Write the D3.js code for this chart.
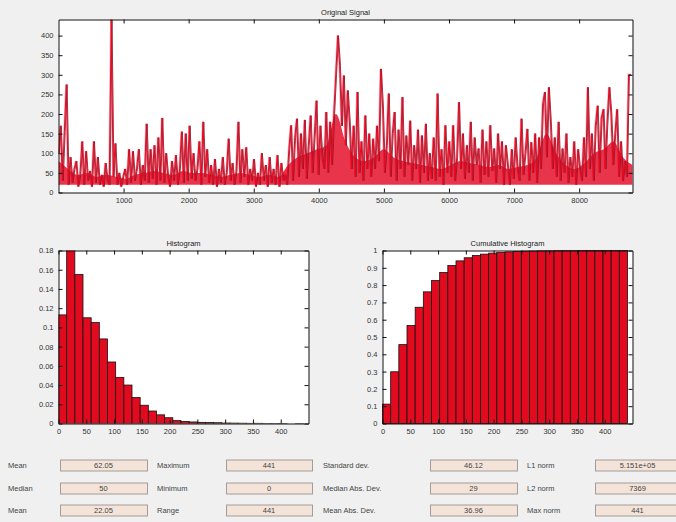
<!DOCTYPE html>
<html lang="en">
<head>
<meta charset="utf-8">
<title>Signal statistics</title>
<script src="https://cdn.jsdelivr.net/npm/d3@7"></script>
<style>
  body { margin: 0; background: #f0f0f0; }
  svg { display: block; font-family: "Liberation Sans", Arial, sans-serif; }
</style>
</head>
<body>
<script>
// signal, one value every sampleStep samples
var signal = [
  100,170,30,155,275,20,90,25,60,80,
  15,45,130,20,105,30,55,15,130,25,
  90,20,45,15,75,30,20,441,40,125,
  20,50,15,40,60,20,110,25,105,30,
  60,110,20,70,30,175,25,110,35,120,
  20,140,30,190,25,100,40,15,80,30,
  95,20,60,155,25,150,30,170,35,100,
  30,60,130,20,180,40,110,25,70,20,
  85,15,60,25,90,20,50,137,30,75,
  20,55,180,25,110,40,115,20,60,30,
  85,15,50,20,100,30,70,15,90,25,
  60,20,95,15,75,30,45,20,110,171,
  30,140,188,40,150,60,185,35,120,196,
  50,140,234,45,170,90,60,205,50,180,
  70,200,300,400,324,170,298,120,260,180,
  60,170,40,256,50,130,30,196,60,150,
  40,137,60,170,80,315,218,50,120,252,
  40,150,205,30,160,60,243,40,145,70,
  183,30,120,60,160,25,145,50,175,30,
  100,35,140,30,252,40,110,20,171,50,
  130,40,171,30,90,230,60,150,35,120,
  50,180,30,140,70,112,25,160,45,130,
  40,171,55,112,25,150,60,130,20,120,
  70,20,110,35,140,60,30,188,45,100,
  162,30,128,50,150,25,140,60,226,256,
  90,268,180,60,140,40,180,30,112,50,
  150,25,90,40,130,20,110,60,30,140,
  40,268,60,150,30,170,221,50,190,212,
  60,180,268,200,70,150,212,40,130,30,
  80,40,300,300
];
var sampleStep = 30;
// upper edge of the solid red mass, one value every bandStep samples
var bandTop = [80,60,45,50,40,45,40,35,45,50,
               55,50,45,55,50,50,45,40,45,50,
               45,40,45,40,70,90,100,110,120,200,
               130,90,80,90,110,90,80,75,70,65,
               60,70,80,75,70,65,70,60,65,70,
               90,150,100,70,60,75,100,110,130,90,70];
var bandStep = 147;
var bandFloor = 20;
var signalLength = 8820;
var signalXTicks = [1000, 2000, 3000, 4000, 5000, 6000, 7000, 8000];
var signalYTicks = [0, 50, 100, 150, 200, 250, 300, 350, 400];

// 30 bins over 0..441
var binWidth = 14.7;
var histValues = [0.113,0.185,0.155,0.110,0.105,0.088,0.064,0.048,0.040,0.027,
                  0.019,0.013,0.009,0.006,0.003,0.0022,0.0016,0.0012,0.001,0.0008,
                  0.0005,0.0004,0.0003,0.0002,0.0002,0.0001,0.0001,0.0001,0,0.0001];
var cumValues = [0.112,0.299,0.456,0.566,0.672,0.761,0.826,0.873,0.913,0.940,
                 0.958,0.971,0.979,0.985,0.988,0.992,0.994,0.996,0.997,0.998,
                 0.998,0.999,0.999,0.999,1,1,1,1,1,1];
var histXTicks = [0, 50, 100, 150, 200, 250, 300, 350, 400];
var histYTicks = [0, 0.02, 0.04, 0.06, 0.08, 0.1, 0.12, 0.14, 0.16, 0.18];
var cumYTicks = [0, 0.1, 0.2, 0.3, 0.4, 0.5, 0.6, 0.7, 0.8, 0.9, 1];

var statLabels = [["Mean", "Median", "Mean"],
                  ["Maximum", "Minimum", "Range"],
                  ["Standard dev.", "Median Abs. Dev.", "Mean Abs. Dev."],
                  ["L1 norm", "L2 norm", "Max norm"]];
var statValues = [["62.05", "50", "22.05"],
                  ["441", "0", "441"],
                  ["46.12", "29", "36.96"],
                  ["5.151e+05", "7369", "441"]];

var width = 676, height = 522;
var svg = d3.select("body").append("svg")
            .attr("width", width)
            .attr("height", height);

svg.append("rect").attr("width", width).attr("height", height).attr("fill", "#f0f0f0");

// matlab like box with inward ticks on all sides
function drawFrame(x, y, xTicks, yTicks, fmt, title) {
  var x0 = x.range()[0], x1 = x.range()[1];
  var y0 = y.range()[0], y1 = y.range()[1];
  var g = svg.append("g");

  g.append("rect")
   .attr("x", x0).attr("y", y1)
   .attr("width", x1 - x0).attr("height", y0 - y1)
   .attr("fill", "#fff");

  return {
    g: g,
    finish: function() {
      var ax = [
        [d3.axisBottom(x).tickValues(xTicks).tickFormat(d3.format("d")), y0, 0],
        [d3.axisTop(x).tickValues(xTicks).tickFormat(""), y1, 0],
        [d3.axisLeft(y).tickValues(yTicks).tickFormat(fmt), x0, 1],
        [d3.axisRight(y).tickValues(yTicks).tickFormat(""), x1, 1]
      ];
      ax.forEach(function(a) {
        var ag = g.append("g")
          .attr("transform", a[2] ? "translate(" + a[1] + ",0)" : "translate(0," + a[1] + ")")
          .call(a[0].tickSizeInner(-4).tickSizeOuter(0).tickPadding(5));
        ag.selectAll("text").attr("font-size", 7.5).attr("fill", "#333");
        ag.select(".domain").attr("stroke", "#111");
        ag.selectAll(".tick line").attr("stroke", "#111");
      });
      g.append("text")
       .attr("x", (x0 + x1) / 2).attr("y", y1 - 5)
       .attr("text-anchor", "middle")
       .attr("font-size", 7.5).attr("fill", "#222")
       .text(title);
    }
  };
}

// ---- original signal
var sx = d3.scaleLinear().domain([0, signalLength]).range([58.5, 632.5]);
var sy = d3.scaleLinear().domain([0, 441]).range([192.5, 19.5]);
var sigPlot = drawFrame(sx, sy, signalXTicks, signalYTicks, d3.format("d"), "Original Signal");

svg.append("clipPath").attr("id", "sclip")
   .append("rect").attr("x", 58.5).attr("y", 19.5).attr("width", 574).attr("height", 173);

var line = d3.line()
  .x(function(d, i) { return sx(i * sampleStep); })
  .y(function(d) { return sy(d); });

var band = d3.area()
  .x(function(d, i) { return sx(i * bandStep); })
  .y0(sy(bandFloor))
  .y1(function(d) { return sy(d); })
  .curve(d3.curveMonotoneX);

var lines = sigPlot.g.append("g").attr("clip-path", "url(#sclip)");
lines.append("path").datum(signal).attr("d", line)
     .attr("fill", "none").attr("stroke", "#f4b3c0").attr("stroke-width", 2.4);
lines.append("path").datum(bandTop).attr("d", band)
     .attr("fill", "#e4122b").attr("opacity", 0.85).attr("stroke", "none");
lines.append("path").datum(signal).attr("d", line)
     .attr("transform", "translate(0.8,0)")
     .attr("fill", "none").attr("stroke", "#7a1d2e").attr("stroke-width", 1).attr("opacity", 0.8);
lines.append("path").datum(signal).attr("d", line)
     .attr("fill", "none").attr("stroke", "#e8081f").attr("stroke-width", 1);
sigPlot.finish();

// ---- histogram
var hx = d3.scaleLinear().domain([0, 450]).range([58.5, 308.5]);
var hy = d3.scaleLinear().domain([0, 0.18]).range([423.5, 250.5]);
var hist = drawFrame(hx, hy, histXTicks, histYTicks, d3.format("~g"), "Histogram");

svg.append("clipPath").attr("id", "hclip")
   .append("rect").attr("x", 58.5).attr("y", 250.5).attr("width", 250).attr("height", 173);

hist.g.append("g").attr("clip-path", "url(#hclip)")
  .selectAll("rect").data(histValues).enter().append("rect")
  .attr("x", function(d, i) { return hx(i * binWidth); })
  .attr("width", function(d, i) { return hx((i + 1) * binWidth) - hx(i * binWidth); })
  .attr("y", function(d) { return hy(d); })
  .attr("height", function(d) { return hy(0) - hy(d); })
  .attr("fill", "#e20a1f").attr("stroke", "#111").attr("stroke-width", 0.8);
hist.finish();

// ---- cumulative histogram
var cx = d3.scaleLinear().domain([0, 450]).range([382.5, 632.5]);
var cy = d3.scaleLinear().domain([0, 1]).range([423.5, 250.5]);
var cum = drawFrame(cx, cy, histXTicks, cumYTicks, d3.format("~g"), "Cumulative Histogram");

cum.g.append("g")
  .selectAll("rect").data(cumValues).enter().append("rect")
  .attr("x", function(d, i) { return cx(i * binWidth); })
  .attr("width", function(d, i) { return cx((i + 1) * binWidth) - cx(i * binWidth); })
  .attr("y", function(d) { return cy(d); })
  .attr("height", function(d) { return cy(0) - cy(d); })
  .attr("fill", "#e20a1f").attr("stroke", "#111").attr("stroke-width", 0.8);
cum.finish();

// ---- statistics fields
var labelX = [8, 157, 323, 527];
var boxX = [60, 226, 430, 595];
var boxW = [87, 86, 87, 85];
var rowY = [465.5, 488.5, 510.5];

var panel = svg.append("g").attr("font-size", 7.5);
statLabels.forEach(function(col, c) {
  col.forEach(function(lab, r) {
    panel.append("text")
      .attr("x", labelX[c]).attr("y", rowY[r]).attr("dy", "0.35em")
      .attr("fill", "#444").text(lab);
    panel.append("rect")
      .attr("x", boxX[c] + 0.5).attr("y", rowY[r] - 5.5)
      .attr("width", boxW[c]).attr("height", 11)
      .attr("fill", "#f4e3d8").attr("stroke", "#a39c98").attr("stroke-width", 1);
    panel.append("text")
      .attr("x", boxX[c] + boxW[c] / 2).attr("y", rowY[r]).attr("dy", "0.35em")
      .attr("text-anchor", "middle").attr("fill", "#444")
      .text(statValues[c][r]);
  });
});
</script>
</body>
</html>
